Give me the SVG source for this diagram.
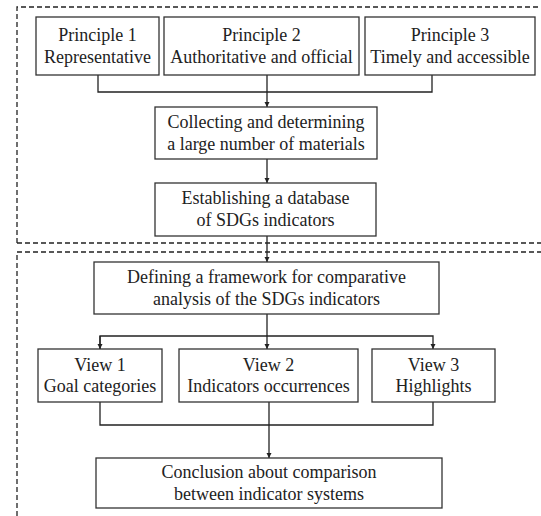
<svg xmlns="http://www.w3.org/2000/svg" width="541" height="516" viewBox="0 0 541 516">
<style>
.box{fill:#fff;stroke:#333;stroke-width:1.3}
.dash{fill:none;stroke:#222;stroke-width:1.3;stroke-dasharray:5 3}
.ln{fill:none;stroke:#222;stroke-width:1.3}
.t{font-family:'Liberation Serif','Times New Roman','DejaVu Serif',serif;font-size:18px;fill:#222;text-anchor:middle}
</style>
<defs>
<marker id="ah" viewBox="0 0 10 10" refX="10" refY="5" markerWidth="5" markerHeight="6" markerUnits="userSpaceOnUse" orient="auto">
<path d="M0,0 L10,5 L0,10 z" fill="#222"/>
</marker>
</defs>
<rect width="541" height="516" fill="#fff"/>
<g id="frames">
<path class="dash" d="M17,243 V7 H541"/>
<path class="dash" d="M17,243 H541"/>
<path class="dash" d="M17,516 V252 H541"/>
</g>
<g id="connectors">
<path class="ln" d="M98,75 V92 H432 V75"/>
<path class="ln" d="M267,75 V107" marker-end="url(#ah)"/>
<path class="ln" d="M267,159 V183" marker-end="url(#ah)"/>
<path class="ln" d="M267,236 V262" marker-end="url(#ah)"/>
<path class="ln" d="M267,314 V336"/>
<path class="ln" d="M100,349 V336 H433 V349" marker-end="url(#ah)"/>
<path class="ln" d="M100,336 V349" marker-end="url(#ah)"/>
<path class="ln" d="M267,336 V349" marker-end="url(#ah)"/>
<path class="ln" d="M100,402 V425 H433 V402"/>
<path class="ln" d="M269,402 V425"/>
<path class="ln" d="M269,425 V458" stroke-width="2" marker-end="url(#ah)"/>
</g>
<g class="t" font-family="Liberation Serif, Times New Roman, serif">
<g id="p1"><rect class="box" x="36" y="17" width="123" height="58"/><text x="97.5" y="41">Principle 1</text><text x="97.5" y="63">Representative</text></g>
<g id="p2"><rect class="box" x="164" y="17" width="195" height="58"/><text x="261.5" y="41">Principle 2</text><text x="261.5" y="63">Authoritative and official</text></g>
<g id="p3"><rect class="box" x="365" y="17" width="170" height="58"/><text x="450" y="41">Principle 3</text><text x="450" y="63">Timely and accessible</text></g>
<g id="collect"><rect class="box" x="155" y="107" width="222" height="52"/><text x="266" y="128">Collecting and determining</text><text x="266" y="150">a large number of materials</text></g>
<g id="db"><rect class="box" x="155" y="183" width="221" height="53"/><text x="265.5" y="204">Establishing a database</text><text x="265.5" y="226">of SDGs indicators</text></g>
<g id="framework"><rect class="box" x="94" y="262" width="345" height="52"/><text x="266.5" y="283">Defining a framework for comparative</text><text x="266.5" y="305">analysis of the SDGs indicators</text></g>
<g id="v1"><rect class="box" x="38" y="349" width="124" height="53"/><text x="100" y="371">View 1</text><text x="100" y="392">Goal categories</text></g>
<g id="v2"><rect class="box" x="179" y="349" width="179" height="53"/><text x="268.5" y="371">View 2</text><text x="268.5" y="392">Indicators occurrences</text></g>
<g id="v3"><rect class="box" x="372" y="349" width="123" height="53"/><text x="433.5" y="371">View 3</text><text x="433.5" y="392">Highlights</text></g>
<g id="conclusion"><rect class="box" x="96" y="458" width="346" height="50"/><text x="269" y="478">Conclusion about comparison</text><text x="269" y="500">between indicator systems</text></g>
</g>
</svg>
